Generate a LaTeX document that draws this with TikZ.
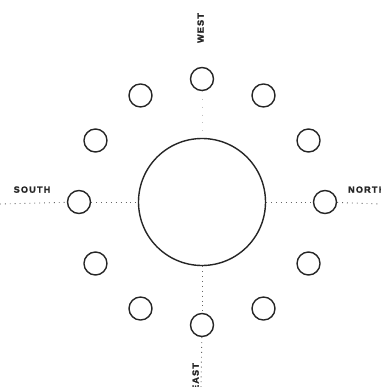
\documentclass[tikz,border=0pt]{standalone}
\usepackage{fontspec}
\usetikzlibrary{calc}
\setmainfont{Liberation Sans}
\newfontfamily\lblfont[LetterSpace=14,FakeBold=2]{Liberation Sans}
\begin{document}
\begin{tikzpicture}[x=1pt,y=-1pt,
  smallc/.style={circle,draw=black!85,line width=1.4pt,minimum size=23pt,inner sep=0pt},
  bigc/.style={circle,draw=black!85,line width=1.4pt,minimum size=127pt,inner sep=0pt},
  dotline/.style={draw=black!60,line width=0.9pt,dash pattern=on 0.9pt off 4pt},
  faint/.style={draw=black!25,line width=0.6pt,dash pattern=on 0.8pt off 7pt},
  lbl/.style={font=\lblfont\bfseries\fontsize{9}{9}\selectfont,text=black!85,inner sep=0pt}]
\useasboundingbox (0,0) rectangle (380,387);
\fill[white] (0,0) rectangle (380,387);
\node[bigc] (big) at (202,202) {};
% with y pointing down, angle 90 is the bottom circle, 270 the top one
\foreach \a in {0,30,...,330}{
  \node[smallc] (c\a) at ($(202,202)+(\a:123)$) {};
}
\coordinate (lw) at (0,204);
\coordinate (re) at (380,204);
\coordinate (be) at (201,387);
\draw[dotline] (lw) -- (c180);
\draw[dotline] (c180) -- (big);
\draw[dotline] (big) -- (c0);
\draw[dotline] (c0) -- (re);
\draw[dotline] (big) -- (c90);
\draw[dotline] (c90) -- (be);
\draw[faint] (c270) -- (big);
\node[lbl,anchor=south] (south) at (32,193) {SOUTH};
\node[lbl,anchor=south west] (north) at (348,193) {NORTH};
\node[lbl,rotate=90,anchor=south] (west) at (204,28) {WEST};
\node[lbl,rotate=90,anchor=south] (east) at (199,377) {EAST};
\end{tikzpicture}
\end{document}
